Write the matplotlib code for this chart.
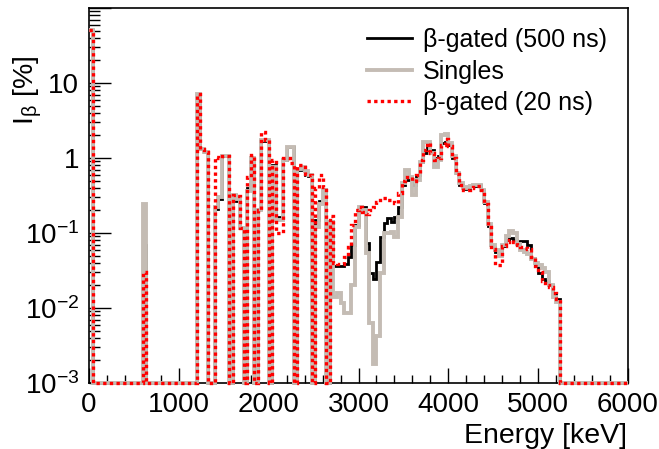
import numpy as np
import matplotlib
matplotlib.use('Agg')
import matplotlib.pyplot as plt
from matplotlib.lines import Line2D
from matplotlib.ticker import FixedLocator, FixedFormatter, MultipleLocator, LogLocator, NullFormatter

plt.rcParams['font.family'] = ['Liberation Sans', 'DejaVu Sans']
plt.rcParams['mathtext.default'] = 'regular'

# --- data: 40 keV bins, lower edge in keV, I_beta in % ---
BIN_W = 40
e_lo = [0, 600, 1200, 1240, 1280, 1400, 1440, 1480, 1520, 1600, 1640, 1680,
        1760, 1800, 1880, 1920, 1960, 2040, 2080, 2120, 2160, 2200, 2240,
        2320, 2360, 2400, 2440, 2520, 2560, 2600, 2680,
        2720, 2760, 2800, 2840, 2880, 2920, 2960, 3000, 3040, 3080, 3120,
        3160, 3200, 3240, 3280, 3320, 3360, 3400, 3440, 3480, 3520, 3560,
        3600, 3640, 3680, 3720, 3760, 3800, 3840, 3880, 3920, 3960, 4000,
        4040, 4080, 4120, 4160, 4200, 4240, 4280, 4320, 4360, 4400, 4440,
        4480, 4520, 4560, 4600, 4640, 4680, 4720, 4760, 4800, 4840, 4880,
        4920, 4960, 5000, 5040, 5080, 5120, 5160, 5200]

gated_500 = [51, 0.07, 7.2, 1.3, 1.2, 0.21, 0.28, 1.07, 1.07, 0.32, 0.27, 0.116,
             0.4, 1.0, 0.21, 1.7, 1.7, 0.8, 0.165, 0.165, 0.95, 1.4, 1.4,
             0.7, 0.72, 0.6, 0.57, 0.15, 0.27, 0.39, 0.145,
             0.036, 0.036, 0.036, 0.039, 0.048, 0.07, 0.128, 0.2, 0.22, 0.073, 0.029,
             0.024, 0.041, 0.089, 0.135, 0.157, 0.142, 0.165, 0.224, 0.44, 0.51, 0.51,
             0.44, 0.59, 0.89, 1.15, 1.57, 1.28, 0.99, 1.05, 1.6, 1.65, 1.5,
             1.0, 0.63, 0.44, 0.39, 0.4, 0.42, 0.42, 0.43, 0.37, 0.25, 0.125,
             0.066, 0.055, 0.056, 0.068, 0.08, 0.085, 0.08, 0.076, 0.078, 0.078, 0.07,
             0.046, 0.036, 0.029, 0.024, 0.023, 0.02, 0.016, 0.013]

singles = [51, 0.24, 7.2, 1.3, 1.2, 0.22, 0.3, 1.07, 1.07, 0.32, 0.28, 0.116,
           0.36, 1.0, 0.2, 1.75, 1.75, 0.75, 0.15, 0.15, 0.95, 1.4, 1.4,
           0.72, 0.75, 0.68, 0.6, 0.12, 0.24, 0.38, 0.14,
           0.014, 0.016, 0.0115, 0.0085, 0.0085, 0.02, 0.12, 0.224, 0.2, 0.054, 0.0063,
           0.0018, 0.0042, 0.029, 0.099, 0.099, 0.104, 0.089, 0.165, 0.46, 0.69, 0.56,
           0.32, 0.51, 0.89, 1.65, 1.65, 1.15, 0.77, 0.95, 2.0, 2.1, 1.6,
           1.05, 0.63, 0.46, 0.4, 0.41, 0.42, 0.43, 0.43, 0.38, 0.26, 0.13,
           0.07, 0.06, 0.05, 0.07, 0.09, 0.105, 0.1, 0.072, 0.06, 0.055, 0.052,
           0.045, 0.04, 0.037, 0.034, 0.03, 0.02, 0.014, 0.012]

gated_20 = [51, 0.03, 7.2, 1.3, 1.2, 1.04, 1.0, 1.07, 1.07, 0.32, 0.31, 0.116,
            0.55, 1.1, 0.2, 2.2, 1.75, 0.95, 0.1, 0.1, 1.0, 1.0, 0.85,
            0.8, 0.8, 0.62, 0.6, 0.4, 0.59, 0.41, 0.17,
            0.04, 0.039, 0.039, 0.048, 0.066, 0.128, 0.2, 0.224, 0.19, 0.18, 0.2,
            0.224, 0.26, 0.29, 0.29, 0.275, 0.275, 0.25, 0.34, 0.49, 0.56, 0.56,
            0.49, 0.59, 0.94, 1.28, 1.57, 1.15, 0.94, 1.0, 1.5, 1.8, 1.45,
            1.0, 0.62, 0.44, 0.38, 0.37, 0.4, 0.41, 0.42, 0.37, 0.24, 0.12,
            0.062, 0.037, 0.037, 0.068, 0.075, 0.08, 0.075, 0.07, 0.066, 0.064, 0.062,
            0.048, 0.036, 0.03, 0.023, 0.02, 0.019, 0.016, 0.013]

labels = ['β-gated (500 ns)', 'Singles', 'β-gated (20 ns)']
Y_MIN, Y_MAX = 1e-3, 100
X_MAX = 6000

edges = np.arange(0, X_MAX + BIN_W, BIN_W)
idx = np.array(e_lo) // BIN_W


def to_hist(vals):
    # empty bins sit on the lower edge of the log axis, like in ROOT
    h = np.full(len(edges) - 1, Y_MIN)
    h[idx] = vals
    return h


fig = plt.figure(figsize=(6.59, 4.49), dpi=100)
ax = fig.add_axes([89 / 659, 1 - 383 / 449, 539 / 659, 375 / 449])

ax.stairs(to_hist(gated_500), edges, baseline=None, color='black', lw=2.0,
          clip_on=False, zorder=3)
ax.stairs(to_hist(singles), edges, baseline=None, color='#c4bcb4', lw=2.8,
          clip_on=False, zorder=4)
ax.stairs(to_hist(gated_20), edges, baseline=None, color='#ff0000', lw=2.4,
          ls=(0, (1, 1)), clip_on=False, zorder=5)

ax.set_yscale('log')
ax.set_xlim(0, X_MAX)
ax.set_ylim(Y_MIN, Y_MAX)

ax.xaxis.set_major_locator(MultipleLocator(1000))
ax.xaxis.set_minor_locator(MultipleLocator(200))
ax.yaxis.set_major_locator(FixedLocator([1e-3, 1e-2, 1e-1, 1, 10, 100]))
ax.yaxis.set_major_formatter(FixedFormatter(['$10^{-3}$', '$10^{-2}$', '$10^{-1}$', '1', '10', '']))
ax.yaxis.set_minor_locator(LogLocator(base=10, subs=np.arange(2, 10)))
ax.yaxis.set_minor_formatter(NullFormatter())

ax.tick_params(axis='both', which='both', direction='in', labelsize=20, colors='black')
ax.tick_params(axis='x', which='major', length=11, width=1, pad=6.5)
ax.tick_params(axis='x', which='minor', length=5.5, width=1)
ax.tick_params(axis='y', which='major', length=16, width=1, pad=7)
ax.tick_params(axis='y', which='minor', length=8, width=1)
for sp in ax.spines.values():
    sp.set_linewidth(1.2)

fig.text(627 / 659, 1 - 443 / 449, 'Energy [keV]', fontsize=20.5, ha='right', va='baseline')
fig.text(28 / 659, 1 - 56 / 449, 'I$_{β}$ [%]', fontsize=20.5, rotation=90,
         ha='center', va='top')

handles = [Line2D([], [], color='black', lw=2.0),
           Line2D([], [], color='#c4bcb4', lw=2.8),
           Line2D([], [], color='#ff0000', lw=2.4, ls=(0, (1, 1)))]
ax.legend(handles, labels, loc='upper left', bbox_to_anchor=((367 - 89) / 539, (383 - 28) / 375),
          frameon=False, fontsize=18, handlelength=1.8, handletextpad=0.44,
          labelspacing=0.3, borderpad=0, borderaxespad=0)

fig.savefig('out.png', dpi=100)
